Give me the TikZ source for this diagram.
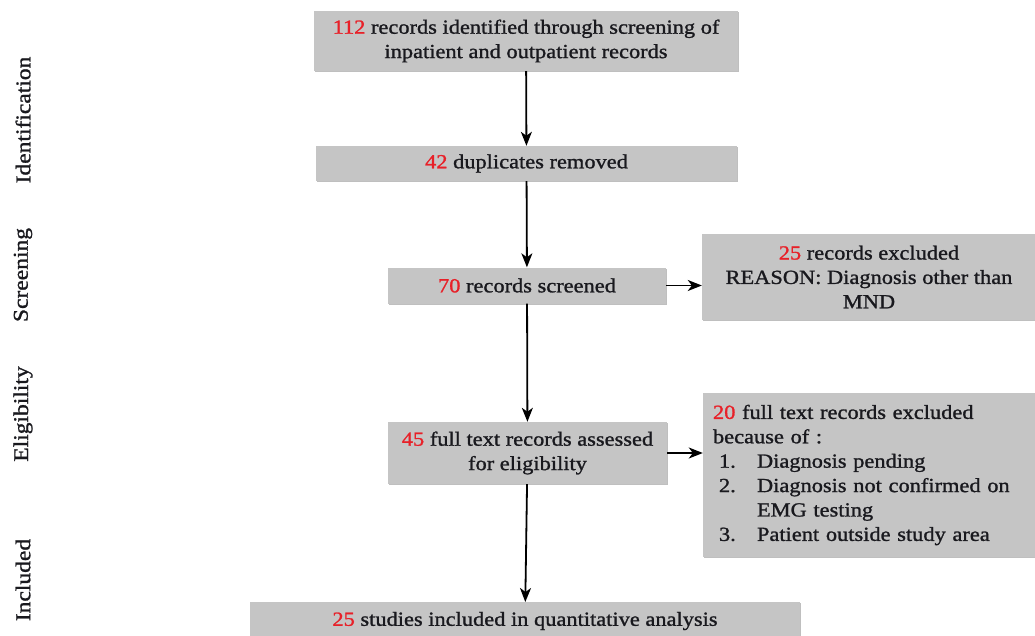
\documentclass[tikz,border=0pt]{standalone}
\usepackage{fontspec}
\setmainfont{Liberation Serif}[FakeStretch=1.12, FakeBold=1.2]
\usetikzlibrary{arrows.meta,shadows}
\definecolor{boxgray}{RGB}{197,197,197}
\definecolor{numred}{RGB}{232,32,40}
\definecolor{txt}{RGB}{25,25,30}
\newcommand{\rn}[1]{\textcolor{numred}{#1}}
\begin{document}
\begin{tikzpicture}[x=1pt,y=-1pt,
  box/.style={fill=boxgray, draw=none, inner sep=0pt, align=center, text=txt,
    drop shadow={shadow xshift=1.2pt, shadow yshift=-1.2pt, fill=black, opacity=0.25},
    font=\fontsize{20}{24.4}\selectfont},
  arr/.style={-{Stealth[length=14pt,width=11pt,inset=4pt]}, line width=1.8pt},
  side/.style={rotate=90, text=txt, font=\fontsize{21}{24}\selectfont}]
\useasboundingbox (0,0) rectangle (1035,636);
\node[side] (lid) at (23,120) {Identification};
\node[side] (lsc) at (23,275) {Screening};
\node[side] (lel) at (23,414) {Eligibility};
\node[side] (lin) at (23,580) {Included};

\node[box, minimum width=424, minimum height=60] (b1) at (526,41)
  {\rn{112} records identified through screening of\\inpatient and outpatient records};
\node[box, minimum width=421, minimum height=35] (b2) at (526.5,163.5)
  {\rn{42} duplicates removed};
\node[box, minimum width=278, minimum height=36] (b3) at (527,285.5)
  {\rn{70} records screened};
\node[box, minimum width=334, minimum height=86] (b4) at (869,277)
  {\rn{25} records excluded\\REASON: Diagnosis other than\\MND};
\node[box, minimum width=279, minimum height=62] (b5) at (527.5,453)
  {\rn{45} full text records assessed\\for eligibility};
\node[box, minimum width=334, minimum height=164, align=left, text width=314] (b6) at (870,475)
  {\rn{20} full text records excluded\\
   because of :\\
   \hspace*{6pt}\makebox[38pt][l]{1.}Diagnosis pending\\
   \hspace*{6pt}\makebox[38pt][l]{2.}Diagnosis not confirmed on\\
   \hspace*{6pt}\makebox[38pt][l]{}EMG testing\\
   \hspace*{6pt}\makebox[38pt][l]{3.}Patient outside study area};
\node[box, minimum width=550, minimum height=40, anchor=north] (b7) at (525,602) {};
\node[text=txt, font=\fontsize{20}{24}\selectfont] (t7) at (525,621) {\rn{25} studies included in quantitative analysis};

\draw[arr] (b1) -- (b2);
\draw[arr] (b2) -- (b3);
\draw[arr] (b3.east) -- (b3.east -| b4.west);
\draw[arr] (b3) -- (b5);
\draw[arr] (b5.east) -- (b5.east -| b6.west);
\draw[arr] (b5) -- (b7);
\end{tikzpicture}
\end{document}
